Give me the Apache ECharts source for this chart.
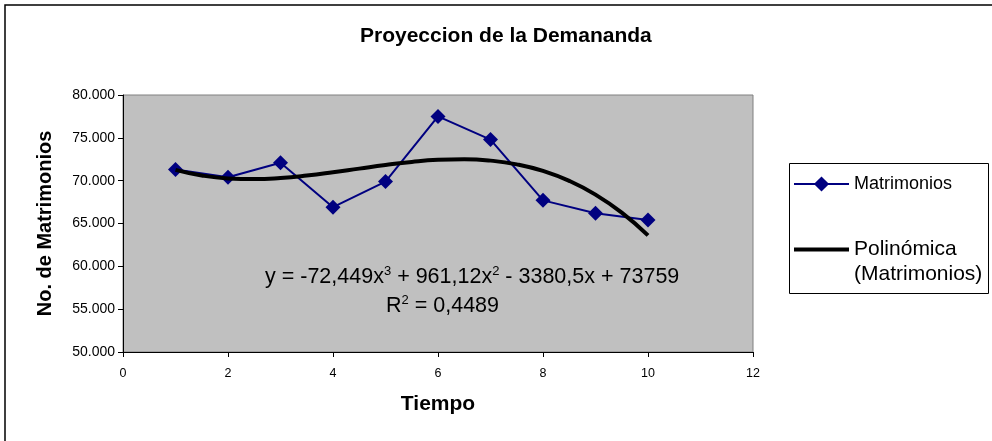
<!DOCTYPE html>
<html>
<head>
<meta charset="utf-8">
<title>Proyeccion de la Demananda</title>
<script src="https://cdn.jsdelivr.net/npm/echarts@6/dist/echarts.min.js"></script>
<style>
  html, body { margin: 0; padding: 0; background: #fff; }
  #chart { width: 992px; height: 441px; }
</style>
</head>
<body>
<div id="chart"></div>
<script>
// Periods (Tiempo) and observed marriages per period
const tiempo = [1, 2, 3, 4, 5, 6, 7, 8, 9, 10];
const matrimonios = [71300, 70400, 72100, 66900, 69900, 77500, 74800, 67700, 66200, 65400];

// Cubic trend: y = c0 + c1*x + c2*x^2 + c3*x^3 (coefficients as printed on the chart)
const trendCoef = [73759, -3380.5, 961.12, -72.449];
const trendR2 = '0,4489';
const trendSamples = [1, 1.5, 2, 2.5, 3, 3.5, 4, 4.5, 5, 5.5, 6, 6.5, 7, 7.5, 8, 8.5, 9, 9.5, 10];

const seriesName = 'Matrimonios';
const trendName = 'Polinómica\n(Matrimonios)';

const polyAt = x => trendCoef.reduce((s, c, i) => s + c * Math.pow(x, i), 0);
const trendData = trendSamples.map(x => [x, polyAt(x)]);
const pointData = tiempo.map((t, i) => [t, matrimonios[i]]);

const fmtThousands = v => {
  const s = String(Math.round(v));
  return s.replace(/\B(?=(\d{3})+(?!\d))/g, '.');
};
const fmtCoef = v => String(Math.abs(v)).replace('.', ',');

const FONT = 'Arial, "Liberation Sans", sans-serif';

const chart = echarts.init(document.getElementById('chart'), null, { renderer: 'canvas' });

const c = trendCoef;
const eqRich = '{t|y = ' + (c[3] < 0 ? '-' : '') + fmtCoef(c[3]) + 'x}{s|3}{t| ' + (c[2] < 0 ? '-' : '+') + ' ' + fmtCoef(c[2]) + 'x}{s|2}{t| ' +
  (c[1] < 0 ? '-' : '+') + ' ' + fmtCoef(c[1]) + 'x ' + (c[0] < 0 ? '-' : '+') + ' ' + fmtCoef(c[0]) + '}';
const r2Rich = '{t|R}{s|2}{t| = ' + trendR2 + '}';
const richStyles = {
  t: { fontSize: 21.5, fontFamily: FONT, color: '#000' },
  s: { fontSize: 13, fontFamily: FONT, color: '#000', verticalAlign: 'top', padding: [0, 0, 11, 0] }
};

chart.setOption({
  animation: false,
  backgroundColor: '#fff',
  title: {
    text: 'Proyeccion de la Demananda',
    left: 355,
    top: 21,
    textStyle: { fontFamily: FONT, fontWeight: 'bold', fontSize: 21, color: '#000' }
  },
  grid: {
    left: 123, right: 239, top: 95, bottom: 89,
    show: true,
    backgroundColor: '#C0C0C0',
    borderColor: '#808080',
    borderWidth: 1
  },
  xAxis: {
    type: 'value',
    min: 0, max: 12, interval: 2,
    name: 'Tiempo',
    nameLocation: 'middle',
    nameGap: 42,
    nameTextStyle: { fontFamily: FONT, fontWeight: 'bold', fontSize: 21, color: '#000' },
    axisLine: { show: true, onZero: false, lineStyle: { color: '#000', width: 1 } },
    axisTick: { show: true, length: 5, lineStyle: { color: '#000' } },
    axisLabel: { margin: 15, fontFamily: FONT, fontSize: 12.5, color: '#000' },
    splitLine: { show: false }
  },
  yAxis: {
    type: 'value',
    min: 50000, max: 80000, interval: 5000,
    name: 'No. de Matrimonios',
    nameLocation: 'middle',
    nameGap: 68,
    nameTextStyle: { fontFamily: FONT, fontWeight: 'bold', fontSize: 20, color: '#000' },
    axisLine: { show: true, lineStyle: { color: '#000', width: 1 } },
    axisTick: { show: true, length: 5, lineStyle: { color: '#000' } },
    axisLabel: { margin: 8, fontFamily: FONT, fontSize: 14, color: '#000', formatter: fmtThousands },
    splitLine: { show: false }
  },
  legend: {
    orient: 'vertical',
    left: 793,
    top: 175,
    itemWidth: 55,
    itemHeight: 19,
    itemGap: 19,
    padding: 0,
    symbolKeepAspect: true,
    // a blank leading line keeps the icon level with the first line of a two-line name
    formatter: name => (name.indexOf('\n') >= 0 ? '\n' + name : name),
    data: [
      { name: seriesName, textStyle: { fontFamily: FONT, fontSize: 18, color: '#000' } },
      { name: trendName,
        icon: 'path://M0,0 H55 V4 H0 Z',
        itemStyle: { color: '#000' },
        textStyle: { fontFamily: FONT, fontSize: 21, color: '#000', lineHeight: 25 } }
    ]
  },
  graphic: [
    // outer chart frame (left and top edges visible)
    { type: 'rect', shape: { x: 5, y: 5, width: 1000, height: 450 },
      style: { fill: 'none', stroke: '#000', lineWidth: 1.5 }, silent: true, z: 0 },
    // legend frame
    { type: 'rect', shape: { x: 789.5, y: 163.5, width: 199, height: 130 },
      style: { fill: '#fff', stroke: '#000', lineWidth: 1 }, silent: true, z: 1 },
    // trend equation and R²
    { type: 'text', left: 265, top: 265, z: 50,
      style: { text: eqRich, rich: richStyles } },
    { type: 'text', left: 386, top: 294, z: 50,
      style: { text: r2Rich, rich: richStyles } }
  ],
  series: [
    {
      name: seriesName,
      type: 'line',
      data: pointData,
      symbol: 'diamond',
      symbolSize: 15,
      itemStyle: { color: '#000080' },
      lineStyle: { color: '#000080', width: 2 },
      z: 3
    },
    {
      name: trendName,
      type: 'line',
      data: trendData,
      smooth: true,
      showSymbol: false,
      symbol: 'none',
      itemStyle: { color: '#000' },
      lineStyle: { color: '#000', width: 4 },
      z: 4
    }
  ]
});
</script>
</body>
</html>
